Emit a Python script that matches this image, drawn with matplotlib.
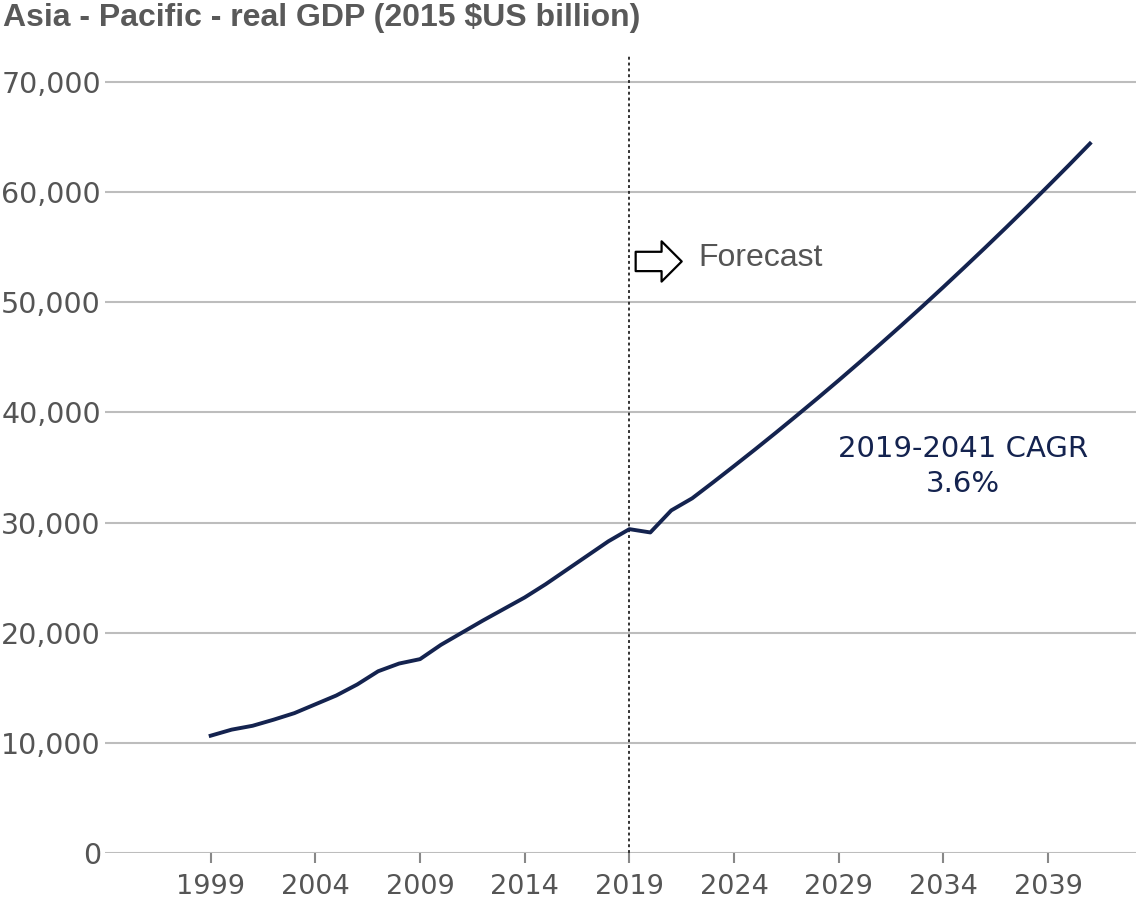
import numpy as np
import matplotlib.pyplot as plt

# Asia-Pacific real GDP, 2015 $US billion
years = list(range(1999, 2042))
gdp = [
    10650, 11200, 11550, 12100, 12700, 13500, 14300, 15300, 16500, 17200,
    17600, 18900, 20000, 21100, 22150, 23200, 24400, 25700, 27000, 28300,
    29400, 29100, 31100, 32200, 33650, 35130, 36630, 38160, 39720, 41300,
    42910, 44550, 46220, 47910, 49630, 51380, 53160, 54960, 56790, 58650,
    60540, 62450, 64400,
]
x_ticks = [1999, 2004, 2009, 2014, 2019, 2024, 2029, 2034, 2039]
y_ticks = [0, 10000, 20000, 30000, 40000, 50000, 60000, 70000]
forecast_start = 2019

LINE = '#14234f'
GREY = '#555555'

fig = plt.figure(figsize=(11.36, 9), dpi=100)
ax = fig.add_axes([0.0924, 0.0522, 0.9076, 0.8868])

ax.plot(years, gdp, color=LINE, linewidth=2.8, zorder=3)
ax.axvline(forecast_start, color='#333333', linestyle=(0, (1.5, 1.5)), linewidth=1.4, zorder=2)

ax.set_xlim(1993.95, 2043.2)
ax.set_ylim(0, 72450)
ax.set_xticks(x_ticks)
ax.set_yticks(y_ticks)
ax.set_yticklabels([f"{v:,}" for v in y_ticks])
ax.grid(axis='y', color='#bdbdbd', linewidth=1.5)
ax.set_axisbelow(True)
for s in ax.spines.values():
    s.set_visible(False)

ax.tick_params(axis='x', colors='#888888', length=7, width=1.5, pad=8,
               labelsize=19.5, labelcolor=GREY)
ax.tick_params(axis='y', length=0, pad=3, labelsize=20.5, labelcolor=GREY)

# forecast marker
ax.annotate('', xy=(2021.5, 53700), xytext=(2019.3, 53700),
            arrowprops=dict(arrowstyle='simple,head_length=0.5,head_width=1.0,tail_width=0.48',
                            fc='white', ec='black', lw=1.6, mutation_scale=29,
                            shrinkA=0, shrinkB=0))
ax.text(2022.3, 54000, 'Forecast', fontsize=23, color=GREY,
        family='Liberation Sans', va='center', ha='left')

ax.text(2034.95, 35100, '2019-2041 CAGR\n3.6%', fontsize=21, color=LINE,
        ha='center', va='center', linespacing=1.35, multialignment='center')

fig.text(0.003, 0.98, 'Asia - Pacific - real GDP (2015 $US billion)',
         fontsize=23, fontweight='bold', color='#595959',
         family='Liberation Sans', va='center', ha='left')

fig.savefig('out.png', dpi=100)
